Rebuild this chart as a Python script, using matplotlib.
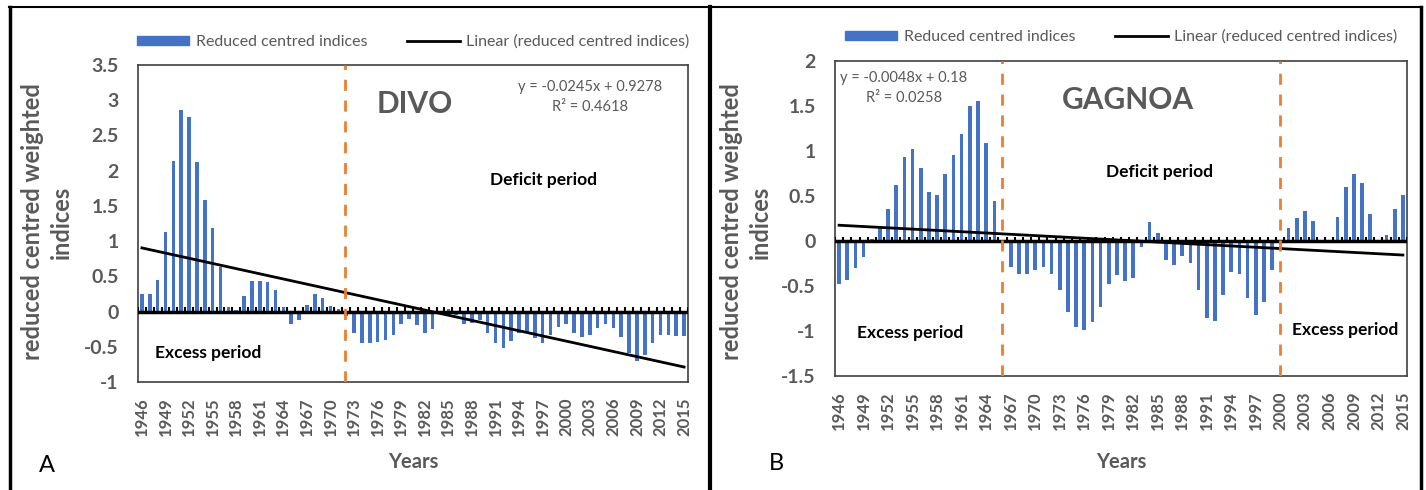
import matplotlib
matplotlib.use('Agg')
import matplotlib.pyplot as plt
from matplotlib.lines import Line2D
from matplotlib.patches import Patch

plt.rcParams['font.family'] = ['Lato', 'DejaVu Sans']

years = list(range(1946, 2016))

divo = [0.25, 0.25, 0.45, 1.13, 2.14, 2.86, 2.76, 2.12, 1.59, 1.18,
        0.63, 0.07, 0.02, 0.22, 0.43, 0.43, 0.42, 0.30, 0.06, -0.17,
        -0.12, 0.10, 0.25, 0.19, 0.08, 0.04, -0.07, -0.31, -0.45, -0.45,
        -0.43, -0.41, -0.33, -0.18, -0.11, -0.19, -0.31, -0.25, -0.01, 0.03,
        -0.05, -0.18, -0.16, -0.12, -0.30, -0.45, -0.52, -0.42, -0.30, -0.31,
        -0.38, -0.44, -0.33, -0.22, -0.17, -0.30, -0.36, -0.33, -0.23, -0.18,
        -0.23, -0.36, -0.59, -0.70, -0.62, -0.44, -0.33, -0.33, -0.34, -0.35]

gagnoa = [-0.48, -0.43, -0.30, -0.18, 0.02, 0.16, 0.36, 0.62, 0.93, 1.02,
          0.81, 0.54, 0.51, 0.74, 0.96, 1.19, 1.50, 1.56, 1.09, 0.44,
          -0.04, -0.29, -0.37, -0.37, -0.32, -0.29, -0.37, -0.55, -0.79, -0.96,
          -0.99, -0.90, -0.73, -0.48, -0.38, -0.45, -0.41, -0.07, 0.21, 0.09,
          -0.21, -0.27, -0.17, -0.24, -0.55, -0.86, -0.89, -0.60, -0.34, -0.37,
          -0.63, -0.82, -0.68, -0.32, -0.04, 0.14, 0.25, 0.33, 0.22, 0.0,
          0.0, 0.27, 0.60, 0.74, 0.64, 0.30, 0.0, 0.07, 0.36, 0.51]

trend_divo = (-0.0245, 0.9278)
trend_gagnoa = (-0.0048, 0.18)

GRAY = '#595959'
BLUE = '#4472C4'
ORANGE = '#ED7D31'

W, H = 1426, 490
fig = plt.figure(figsize=(W / 100, H / 100), dpi=100)


def fx(px):
    return px / W


def fy(py):
    return 1 - py / H


def panel(rect, vals, trend, ylim, yticks, tick_h, splits, name, name_xy,
          eq_xy, eq_text, periods, ylab_x, leg_y):
    ax = fig.add_axes(rect)
    n = len(vals)
    idx = list(range(n))
    ax.bar(idx, vals, width=0.45, color=BLUE, zorder=2)
    # trend line (x counted from 1 as in Excel)
    a, b = trend
    ax.plot([0, n - 1], [a * 1 + b, a * n + b], color='black', lw=2, zorder=4)
    # zero axis with category ticks
    ax.axhline(0, color='black', lw=2.5, zorder=3)
    ax.vlines([i - 0.5 for i in range(n + 1)], 0, tick_h, color='black', lw=1.5, zorder=3)
    for s in splits:
        ax.axvline(s, color=ORANGE, lw=2, dashes=(4, 3.5), zorder=5)
    ax.set_xlim(-0.5, n - 0.5)
    ax.set_ylim(*ylim)
    ax.set_yticks(yticks)
    ax.set_yticklabels([('%g' % t) for t in yticks], fontsize=14,
                       fontweight='bold', color=GRAY)
    ax.set_xticks(idx[::3])
    ax.set_xticklabels([str(y) for y in years[::3]], rotation=90, fontsize=12,
                       fontweight='bold', color=GRAY)
    ax.tick_params(axis='y', length=0, pad=14)
    ax.tick_params(axis='x', length=0, pad=11)
    for sp in ax.spines.values():
        sp.set_color('#404040')
        sp.set_linewidth(1.2)
    handles = [Patch(color=BLUE), Line2D([0], [0], color='black', lw=2)]
    leg = ax.legend(handles, ['Reduced centred indices', 'Linear (reduced centred indices)'],
                    loc='center', bbox_to_anchor=(0.5, (fy(leg_y) - rect[1]) / rect[3]),
                    ncol=2, frameon=False,
                    fontsize=11.5, labelcolor=GRAY, handlelength=3.3, handleheight=0.45,
                    columnspacing=2.5, handletextpad=0.4, borderaxespad=0)
    leg.set_zorder(6)
    fig.text(fx(name_xy[0]), fy(name_xy[1]), name, fontsize=21.5, fontweight='bold',
             color=GRAY, ha='center', va='center')
    fig.text(fx(eq_xy[0]), fy(eq_xy[1]), eq_text, fontsize=10.5, color=GRAY,
             ha='center', va='center', linespacing=1.6)
    for (px, py), t in periods:
        fig.text(fx(px), fy(py), t, fontsize=12.5, fontweight='bold', color='black',
                 ha='center', va='center')
    fig.text(fx(ylab_x), fy(222), 'reduced centred weighted\nindices', rotation=90,
             fontsize=17, fontweight='bold', color=GRAY, ha='center', va='center',
             linespacing=1.3)
    fig.text(fx(rect[0] * W + rect[2] * W / 2), fy(462), 'Years', fontsize=14.5,
             fontweight='bold', color=GRAY, ha='center', va='center')
    return ax


panel([fx(138), fy(382), fx(688) - fx(138), fy(65) - fy(382)], divo, trend_divo,
      (-1, 3.5), [-1, -0.5, 0, 0.5, 1, 1.5, 2, 2.5, 3, 3.5], 0.06, [25.8],
      'DIVO', (415, 104), (590, 97), 'y = -0.0245x + 0.9278\nR² = 0.4618',
      [((543, 180), 'Deficit period'), ((208, 353), 'Excess period')], 47, 42)

panel([fx(835), fy(376), fx(1407) - fx(835), fy(61) - fy(376)], gagnoa, trend_gagnoa,
      (-1.5, 2), [-1.5, -1, -0.5, 0, 0.5, 1, 1.5, 2], 0.045, [19.9, 53.9],
      'GAGNOA', (1128, 100), (904, 88), 'y = -0.0048x + 0.18\nR² = 0.0258',
      [((1160, 172), 'Deficit period'), ((910, 333), 'Excess period'),
       ((1345, 330), 'Excess period')], 746, 37)

fig.text(fx(47), fy(465), 'A', fontsize=17, color='black', ha='center', va='center')
fig.text(fx(776), fy(463), 'B', fontsize=17, color='black', ha='center', va='center')

# table borders around the two panels
border = dict(color='black', transform=fig.transFigure, figure=fig)
fig.lines.append(Line2D([fx(9), fx(1422)], [fy(7), fy(7)], lw=1.5, **border))
fig.lines.append(Line2D([fx(10), fx(10)], [fy(7), 0], lw=2.5, **border))
fig.lines.append(Line2D([fx(710), fx(710)], [fy(7), 0], lw=3, **border))
fig.lines.append(Line2D([fx(1421), fx(1421)], [fy(7), 0], lw=2.5, **border))

fig.savefig('out.png', dpi=100)
